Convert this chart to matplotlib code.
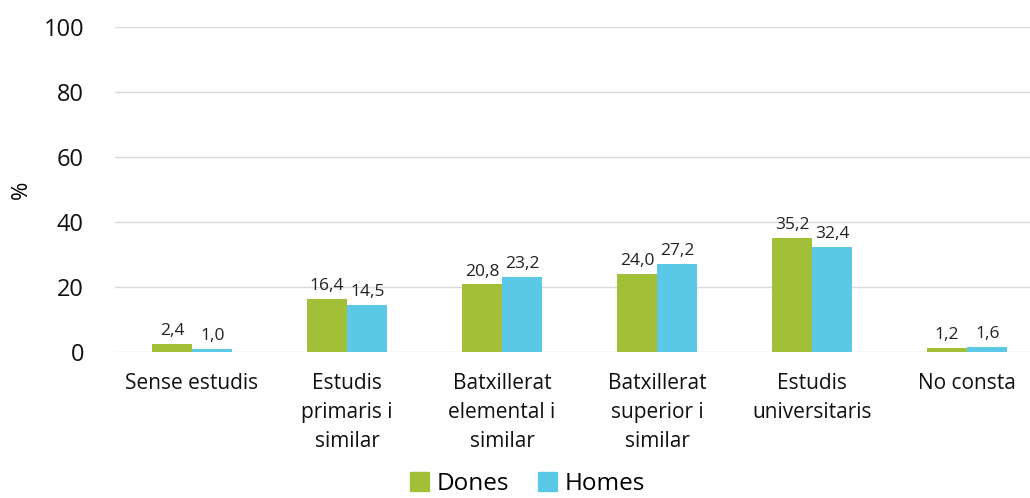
import numpy as np
import matplotlib
matplotlib.use("Agg")
import matplotlib.pyplot as plt
from matplotlib.patches import Patch

categories = ["Sense estudis", "Estudis\nprimaris i\nsimilar", "Batxillerat\nelemental i\nsimilar",
              "Batxillerat\nsuperior i\nsimilar", "Estudis\nuniversitaris", "No consta"]
dones = [2.4, 16.4, 20.8, 24.0, 35.2, 1.2]
homes = [1.0, 14.5, 23.2, 27.2, 32.4, 1.6]
series_names = ["Dones", "Homes"]
colors = ["#A1C038", "#5BC8E8"]

plt.rcParams["font.family"] = ["Open Sans", "DejaVu Sans"]

fig = plt.figure(figsize=(10.3, 4.98), dpi=100)
# plot area runs a little past the right edge, as in the source chart
ax = fig.add_axes([0.1112, 0.2932, 0.903, 0.6526])

x = np.arange(len(categories))
w = 0.26
for vals, off, c in [(dones, -w / 2, colors[0]), (homes, w / 2, colors[1])]:
    bars = ax.bar(x + off, vals, width=w, color=c, zorder=3)
    for b, v in zip(bars, vals):
        ax.text(b.get_x() + b.get_width() / 2, v + 1.5, f"{v:.1f}".replace(".", ","),
                ha="center", va="bottom", fontsize=12.5, color="#222222")

ax.set_xlim(-0.5, len(categories) - 0.5)
ax.set_ylim(0, 100)
ax.set_yticks(range(0, 101, 20))
ax.tick_params(axis="y", labelsize=17, length=0, pad=22, colors="#111111")
ax.set_xticks(x)
ax.set_xticklabels(categories, fontsize=15, linespacing=1.5, va="top")
ax.tick_params(axis="x", length=0, pad=15, colors="#111111")
ax.grid(axis="y", color="#D9D9D9", linewidth=1, zorder=0)
for s in ax.spines.values():
    s.set_visible(False)
ax.set_ylabel("%", fontsize=16, labelpad=8)

handles = [Patch(color=c, label=n) for c, n in zip(colors, series_names)]
fig.legend(handles=handles, loc="center", bbox_to_anchor=(0.512, 0.028), ncol=2, frameon=False,
           fontsize=17.5, handlelength=0.8, handleheight=0.8, handletextpad=0.3, columnspacing=1.2,
           borderpad=0.0)

fig.savefig("out.png", dpi=100)
